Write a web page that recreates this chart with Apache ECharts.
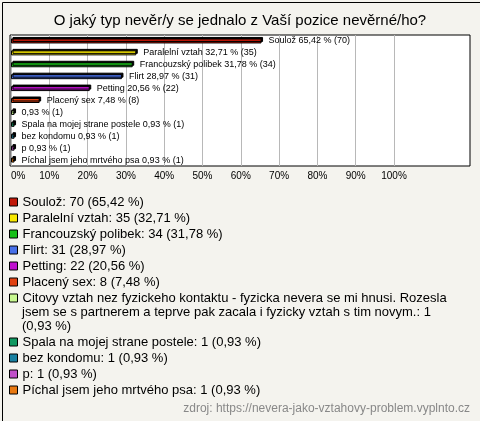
<!DOCTYPE html>
<html><head><meta charset="utf-8">
<script src="https://cdn.jsdelivr.net/npm/echarts@6/dist/echarts.min.js"></script>
<style>html,body{margin:0;padding:0;background:#f4f3ee}#c{width:480px;height:421px}</style>
</head><body><div id="c"></div>
<script>
const title = 'O jaký typ nevěr/y se jednalo z Vaší pozice nevěrné/ho?';
const categories = ['Soulož','Paralelní vztah','Francouzský polibek','Flirt','Petting','Placený sex',
  'Citovy vztah nez fyzickeho kontaktu - fyzicka nevera se mi hnusi. Rozesla jsem se s partnerem a teprve pak zacala i fyzicky vztah s tim novym.',
  'Spala na mojej strane postele','bez kondomu','p','Píchal jsem jeho mrtvého psa'];
const barNames = ['Soulož','Paralelní vztah','Francouzský polibek','Flirt','Petting','Placený sex','',
  'Spala na mojej strane postele','bez kondomu','p','Píchal jsem jeho mrtvého psa'];
const counts = [70,35,34,31,22,8,1,1,1,1,1];
const percents = [65.42,32.71,31.78,28.97,20.56,7.48,0.93,0.93,0.93,0.93,0.93];
const colors = ['#c01808','#f8e800','#18c018','#4870e8','#c010d0','#e04010','#c8f890','#109860','#1880a0','#c050c8','#e87810'];
const xTicks = [0,10,20,30,40,50,60,70,80,90,100];
const source = 'zdroj: https://nevera-jako-vztahovy-problem.vyplnto.cz';

const fmt = v => v.toFixed(2).replace('.', ',');
const legendText = i => categories[i] + ': ' + counts[i] + ' (' + fmt(percents[i]) + ' %)';
// wrapped lines of the long legend entry (as in the reference)
const longFull = legendText(6);
const br1 = longFull.indexOf('Rozesla') + 'Rozesla'.length;
const br2 = longFull.indexOf('(0,93');
const longLines = [longFull.slice(0, br1), longFull.slice(br1 + 1, br2 - 1), longFull.slice(br2)];

const series = categories.map((name, i) => ({
  name, type: 'bar', stack: 'all', barWidth: 5, xAxisIndex: 0, yAxisIndex: 0,
  data: categories.map((_, j) => j === i ? percents[i] : '-'),
  itemStyle: { color: colors[i], borderColor: '#000', borderWidth: 1,
    shadowColor: '#000', shadowOffsetX: 1.5, shadowOffsetY: -1.5, shadowBlur: 0 },
  label: { show: true, position: 'right', distance: 7, fontSize: 9, color: '#000', fontFamily: 'Arial',
    formatter: () => (barNames[i] ? barNames[i] + ' ' : '') + fmt(percents[i]) + ' % (' + counts[i] + ')' },
  emphasis: { disabled: true }, animation: false
}));

const legendBase = {
  orient: 'vertical', left: 9, padding: 0, itemWidth: 8, itemHeight: 8, itemGap: 0,
  icon: 'rect', itemStyle: { borderColor: '#000', borderWidth: 1 }, selectedMode: false,
  textStyle: { fontSize: 13, color: '#000', lineHeight: 16, fontFamily: 'Arial' }
};

const chart = echarts.init(document.getElementById('c'), null, { renderer: 'canvas' });
chart.setOption({
  backgroundColor: '#f4f3ee',
  animation: false,
  textStyle: { fontFamily: 'Arial' },
  title: { text: title, left: 'center', top: 8, textStyle: { fontSize: 15, fontWeight: 'normal', color: '#000', fontFamily: 'Arial' } },
  grid: [
    { left: 11, right: 86, top: 35, height: 131, show: false },
    { left: 10, right: 10, top: 35, height: 131, show: true, backgroundColor: '#fff', borderColor: '#000', borderWidth: 1 }
  ],
  xAxis: [
    { type: 'value', gridIndex: 0, min: xTicks[0], max: xTicks[xTicks.length - 1], interval: 10,
      axisLine: { show: false }, axisTick: { show: false },
      splitLine: { show: true, lineStyle: { color: '#b8b8b8', width: 1 } },
      axisLabel: { formatter: v => v + '%', fontSize: 10, color: '#000', margin: 5, alignMinLabel: 'left' } },
    { type: 'value', gridIndex: 1, show: false }
  ],
  yAxis: [
    { type: 'category', gridIndex: 0, data: categories, inverse: true, show: false },
    { type: 'category', gridIndex: 1, data: [], show: false }
  ],
  legend: [
    Object.assign({}, legendBase, { data: categories.slice(0, 7), top: 194,
      formatter: name => { const i = categories.indexOf(name); return i === 6 ? longLines[0] : legendText(i); } }),
    Object.assign({}, legendBase, { data: categories.slice(7), top: 334,
      formatter: name => legendText(categories.indexOf(name)) })
  ],
  graphic: [
    { type: 'text', left: 22, top: 305, style: { text: longLines[1] + '\n' + longLines[2], font: '13px Arial', fill: '#000', lineHeight: 14 } },
    { type: 'text', right: 10, top: 403, style: { text: source, font: '12px Arial', fill: '#888' } },
    { type: 'rect', left: 0, top: 0, shape: { width: 479, height: 420 }, style: { fill: 'none', stroke: '#000', lineWidth: 1 }, silent: true }
  ],
  series
});
</script></body></html>
